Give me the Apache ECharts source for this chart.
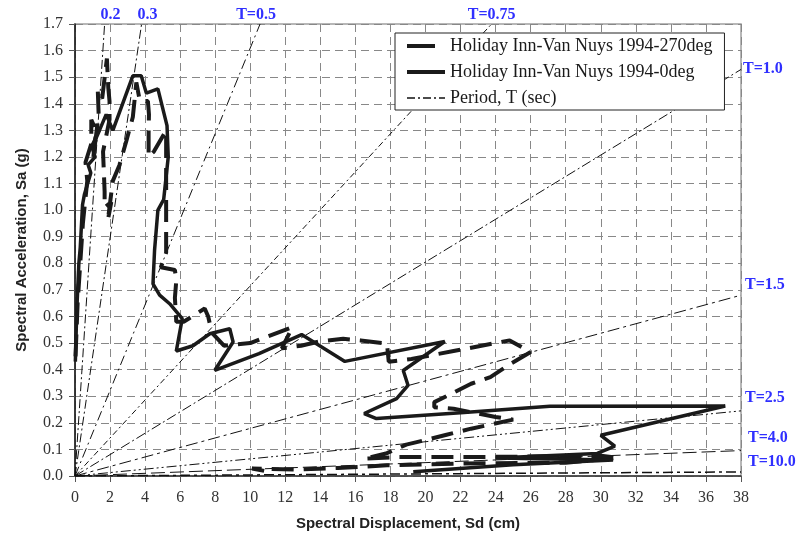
<!DOCTYPE html>
<html>
<head>
<meta charset="utf-8">
<script src="https://cdn.jsdelivr.net/npm/echarts@6/dist/echarts.min.js"></script>
<style>
html,body{margin:0;padding:0;background:#fff;}
#chart{width:797px;height:540px;}
</style>
</head>
<body>
<div id="chart"></div>
<script>
// ---- Data ----
// Holiday Inn-Van Nuys 1994-270deg (dashed)
const sd270 = [0.03,0.15,0.3,0.45,0.7,0.6,0.93,0.93,1.2,1.05,1.35,1.3,1.55,1.82,1.9,1.97,1.97,1.6,1.69,1.69,2.07,1.87,2.16,2.54,2.93,3.3,3.5,3.7,4.16,4.22,4.2,4.2,4.5,5.2,5.2,5.2,4.9,5.7,5.78,5.7,5.78,6.2,7.4,7.6,7.8,8.5,10.0,12.4,11.8,12.9,14.0,15.3,16.3,17.8,17.9,19.2,21.6,24.0,24.8,26.0,24.8,23.7,22.6,21.5,20.5,20.5,21.6,24.0,25.0,22.6,21.2,20.3,18.9,17.8,16.5,18.5,24.0,30.0,31.0,28.0,22.0,17.8,15.0,12.6,10.1,11.2];
const sa270 = [0.45,0.65,0.80,0.95,1.11,1.18,1.25,1.34,1.30,1.20,1.36,1.45,1.42,1.57,1.46,1.41,1.34,1.22,1.07,1.01,1.03,0.96,1.11,1.17,1.26,1.35,1.48,1.41,1.41,1.36,1.29,1.20,1.22,1.30,0.94,0.84,0.785,0.775,0.736,0.67,0.58,0.58,0.63,0.60,0.54,0.49,0.50,0.56,0.48,0.49,0.507,0.516,0.51,0.498,0.43,0.44,0.47,0.50,0.51,0.466,0.42,0.372,0.347,0.31,0.278,0.259,0.253,0.222,0.212,0.178,0.155,0.14,0.118,0.086,0.065,0.071,0.072,0.076,0.068,0.05,0.047,0.04,0.03,0.024,0.028,0.014];
// Holiday Inn-Van Nuys 1994-0deg (solid)
const sd0 = [0.02,0.1,0.22,0.3,0.43,0.54,0.9,0.75,1.15,0.95,1.4,1.2,1.78,2.16,3.3,3.78,4.07,4.73,5.25,5.32,5.06,4.73,4.54,4.45,4.83,5.4,6.12,5.78,6.73,7.69,8.83,9.02,7.97,10.5,12.93,15.4,21.1,18.73,19.0,18.35,16.5,17.2,22.0,27.1,37.1,30.0,30.8,29.8,24.0,30.7,25.0,19.3];
const sa0 = [0.43,0.62,0.80,0.86,1.02,1.06,1.14,1.17,1.20,1.24,1.30,1.27,1.36,1.30,1.505,1.505,1.44,1.456,1.318,1.20,1.04,1.00,0.85,0.723,0.68,0.648,0.592,0.47,0.49,0.535,0.554,0.504,0.397,0.46,0.532,0.431,0.506,0.397,0.341,0.291,0.235,0.216,0.238,0.262,0.263,0.153,0.112,0.085,0.068,0.06,0.042,0.016];
// Constant-period lines: end points where they leave the plot
const periodLabels = ['0.2','0.3','T=0.5','T=0.75','T=1.0','T=1.5','T=2.5','T=4.0','T=10.0'];
const periodEndSd = [1.69,3.80,10.56,23.77,38,38,38,38,38];
const periodEndSa = [1.7,1.7,1.7,1.7,1.529,0.68,0.245,0.0956,0.0153];
// Axis ticks
const xTicks = {min:0, max:38, step:2};
const yTicks = {min:0, max:1.7, step:0.1};
const seriesNames = ['Holiday Inn-Van Nuys 1994-270deg','Holiday Inn-Van Nuys 1994-0deg','Period, T (sec)'];

// ---- Styles ----
const periodDash = [[9,3,2,3],[9,3,2,3],[10,4,2,4],[6,3,2,3],[10,3,2,3],[12,4,3,4],[10,3,2,3,2,3],[14,5],[10,4,3,4]];
const periodWidth = [1,1,1,1,1,1,1,1,1.5];
const periodLabelPos = [
  {align:'center', offset:[6,-9]},
  {align:'center', offset:[6,-9]},
  {align:'center', offset:[-4,-9]},
  {align:'center', offset:[0,-9]},
  {align:'left', offset:[2,-1]},
  {align:'left', offset:[4,-10]},
  {align:'left', offset:[4,-12.5]},
  {align:'left', offset:[7,-13]},
  {align:'left', offset:[7,-10]}
];
const legendLine = [
  {width:4, type:[28,20], color:'#1a1a1a'},
  {width:4, type:'solid', color:'#1a1a1a'},
  {width:1.5, type:[8,3,2,3], color:'#111'}
];

const zip = (a,b) => a.map((v,i)=>[v,b[i]]);

const series = [];
periodLabels.forEach((lab,i)=>{
  series.push({
    name: i===0 ? seriesNames[2] : 'period'+i,
    type:'line',
    data:[[0,0],[periodEndSd[i],periodEndSa[i]]],
    symbol:'none',
    silent:true,
    z:1,
    lineStyle:{color:'#111', width:periodWidth[i], type:periodDash[i]},
    endLabel:{
      show:true,
      formatter:lab,
      color:'#2f2fff',
      fontFamily:'Liberation Serif',
      fontWeight:'bold',
      fontSize:16,
      distance:0,
      verticalAlign:'middle',
      align:periodLabelPos[i].align,
      offset:periodLabelPos[i].offset
    }
  });
});
series.push({
  name:seriesNames[0], type:'line', data:zip(sd270,sa270), symbol:'none', z:3,
  lineStyle:{color:'#1a1a1a', width:4, type:[22,10]}
});
series.push({
  name:seriesNames[1], type:'line', data:zip(sd0,sa0), symbol:'none', z:4,
  lineStyle:{color:'#1a1a1a', width:3.5, type:'solid'}
});

const chart = echarts.init(document.getElementById('chart'), null, {renderer:'canvas'});
chart.setOption({
  animation:false,
  backgroundColor:'#fff',
  grid:{left:75, top:24, width:666, height:452, show:true, borderColor:'#a0a0a0', borderWidth:1.5, backgroundColor:'transparent'},
  legend:{
    orient:'vertical', left:395, top:33,
    data:seriesNames.map((n,i)=>({name:n, itemStyle:{opacity:0}, lineStyle:legendLine[i]})),
    itemWidth:38, itemHeight:14, itemGap:8,
    padding:[4,12,3,10],
    borderColor:'#222', borderWidth:1, backgroundColor:'#fff',
    textStyle:{fontFamily:'Liberation Serif', fontSize:18, color:'#1a1a1a', lineHeight:18}
  },
  xAxis:{
    type:'value', min:xTicks.min, max:xTicks.max, interval:xTicks.step,
    name:'Spectral Displacement, Sd (cm)', nameLocation:'middle', nameGap:40,
    nameTextStyle:{fontFamily:'Liberation Sans', fontWeight:'bold', fontSize:15, color:'#222'},
    axisLine:{show:true, lineStyle:{color:'#333', width:1.5}},
    axisTick:{show:true, length:6, lineStyle:{color:'#555'}},
    axisLabel:{fontFamily:'Liberation Serif', fontSize:16, color:'#333', margin:14},
    splitLine:{show:true, lineStyle:{color:'#888', width:1, type:[8,5]}}
  },
  yAxis:{
    type:'value', min:yTicks.min, max:yTicks.max, interval:yTicks.step,
    name:'Spectral Acceleration, Sa (g)', nameLocation:'middle', nameGap:46,
    nameTextStyle:{fontFamily:'Liberation Sans', fontWeight:'bold', fontSize:15, color:'#222'},
    axisLine:{show:true, lineStyle:{color:'#111', width:1.5}},
    axisTick:{show:true, length:6, lineStyle:{color:'#555'}},
    axisLabel:{fontFamily:'Liberation Serif', fontSize:16, color:'#333', margin:12,
      formatter:v=>v.toFixed(1)},
    splitLine:{show:true, lineStyle:{color:'#888', width:1, type:[8,5]}}
  },
  series:series
});
</script>
</body>
</html>
